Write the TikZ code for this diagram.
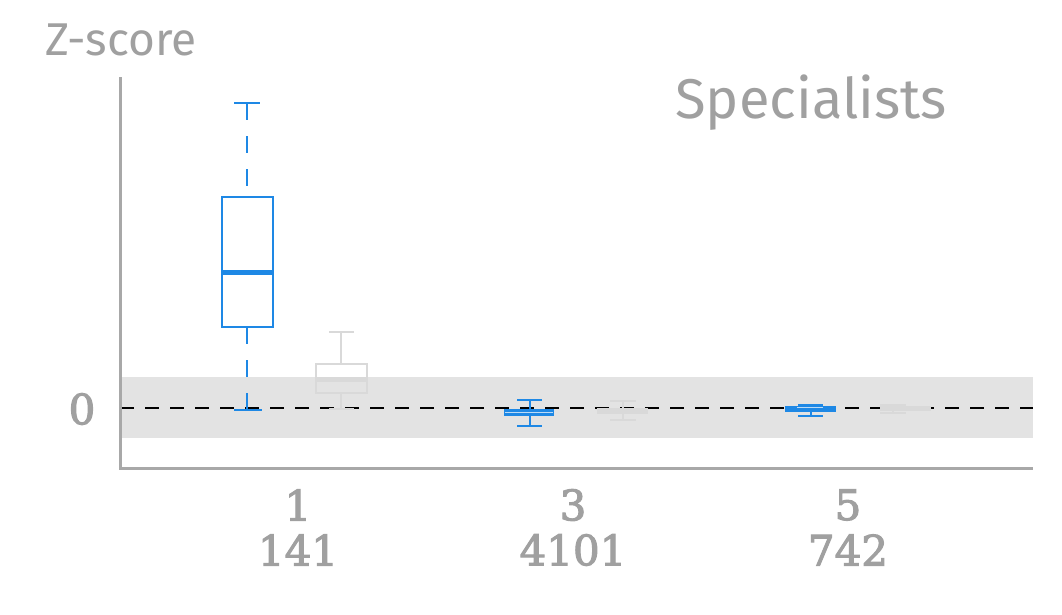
\documentclass[tikz,border=0pt]{standalone}
\usepackage{fontspec}
\setmainfont{DejaVu Serif}
\newfontfamily\labfont{Fira Sans}
\newfontfamily\numfont[FakeBold=2.5]{DejaVu Serif}
\begin{document}
\begin{tikzpicture}[x=1pt,y=-1pt]
\definecolor{txtgray}{HTML}{A0A0A0}
\definecolor{axgray}{HTML}{A8A8A8}
\definecolor{band}{HTML}{E3E3E3}
\definecolor{bblue}{HTML}{1E88E5}
\definecolor{lgray}{HTML}{D9D9D9}
\tikzset{
  bluebox/.style={draw=bblue,line width=2pt},
  graybox/.style={draw=lgray,line width=2pt},
  bluemed/.style={draw=bblue,line width=5pt},
  graymed/.style={draw=lgray,line width=5pt},
  whisk/.style={dash pattern=on 17pt off 16pt},
  num/.style={text=txtgray,font=\numfont\fontsize{42}{44}\selectfont,inner sep=0pt},
  lab/.style={text=txtgray,inner sep=0pt,font=\labfont},
}
\useasboundingbox (0,0) rectangle (1062,614);
\fill[white] (0,0) rectangle (1062,614);
% band
\fill[band] (120,377) rectangle (1033,438);
% zero line
\draw[black,line width=1.6pt,dash pattern=on 14pt off 11pt] (120,408) -- (1033,408);
% axes
\draw[axgray,line width=3pt] (120,77) -- (120,468) -- (1033,468);
% group 1 blue
\draw[bluebox,whisk] (247,103) -- (247,197);
\draw[bluebox,whisk] (247,327) -- (247,410);
\draw[bluebox] (234,103) -- (260,103);
\draw[bluebox] (234,410) -- (262,410);
\draw[bluebox] (222,197) rectangle (273,327);
\draw[bluemed] (222,272) -- (273,272);
% group 1 gray
\draw[graybox] (341,332) -- (341,364);
\draw[graybox] (341,393) -- (341,409);
\draw[graybox] (329,332) -- (354,332);
\draw[graybox] (329,409) -- (354,409);
\draw[graybox] (316,364) rectangle (367,393);
\draw[graymed] (316,379) -- (367,379);
% group 3 blue
\draw[bluebox] (530,400) -- (530,426);
\draw[bluebox] (517,400) -- (542,400);
\draw[bluebox] (517,426) -- (542,426);
\fill[bblue] (504,409) rectangle (554,416);
\draw[white!70!bblue,line width=1pt] (505,412.5) -- (553,412.5);
% group 3 gray
\draw[graybox] (623,401) -- (623,420);
\draw[graybox] (610,401) -- (636,401);
\draw[graybox] (610,420) -- (636,420);
\fill[lgray] (597,408) rectangle (648,414);
% group 5 blue
\draw[bluebox] (811,405) -- (811,416);
\draw[bluebox] (798,405) -- (823,405);
\draw[bluebox] (798,416) -- (823,416);
\fill[bblue] (785,406) rectangle (836,412);
\draw[white!70!bblue,line width=1pt] (797,407.5) -- (823,407.5);
% group 5 gray
\draw[graybox] (893,404) -- (893,413);
\draw[graybox] (880,405) -- (906,405);
\draw[graybox] (880,413) -- (906,413);
\fill[lgray] (880,406) rectangle (931,411);
% labels
\node[num] (zero) at (82,409) {0};
\node[num] (g1) at (298,505) {1};
\node[num] (n1) at (298,550) {141};
\node[num] (g3) at (573,505) {3};
\node[num] (n3) at (573,550) {4101};
\node[num] (g5) at (848,505) {5};
\node[num] (n5) at (848,550) {742};
\node[lab,font=\labfont\fontsize{46}{48}\selectfont] (ylab) at (121,40) {Z-score};
\node[lab,font=\labfont\fontsize{56}{60}\selectfont] (title) at (811,103) {Specialists};
\end{tikzpicture}
\end{document}
